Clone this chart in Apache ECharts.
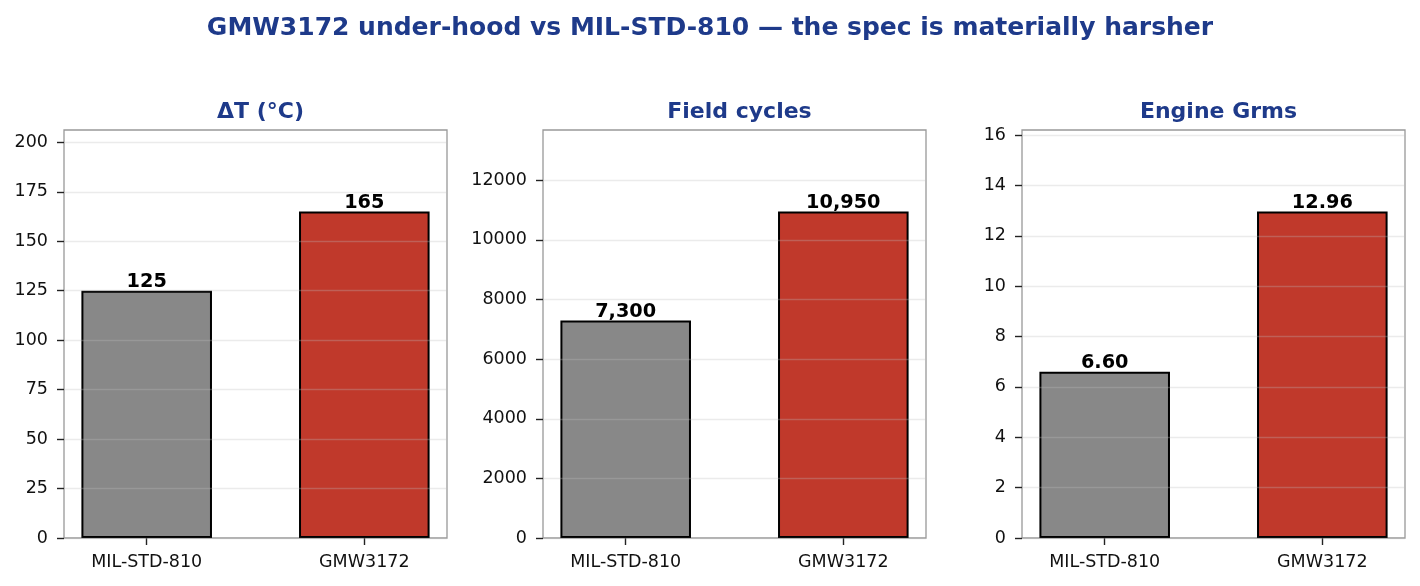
<!DOCTYPE html>
<html><head><meta charset="utf-8">
<script src="https://cdn.jsdelivr.net/npm/echarts@6/dist/echarts.min.js"></script>
<style>html,body{margin:0;padding:0;background:#fff}#c{width:1420px;height:586px}</style>
</head><body><div id="c"></div>
<script>
const chartTitle = 'GMW3172 under-hood vs MIL-STD-810 — the spec is materially harsher';
const categories = ['MIL-STD-810', 'GMW3172'];
const panelTitles = ['ΔT (°C)', 'Field cycles', 'Engine Grms'];
const deltaT = [125, 165];
const fieldCycles = [7300, 10950];
const engineGrms = [6.60, 12.96];
const deltaTLabels = ['125', '165'];
const fieldCyclesLabels = ['7,300', '10,950'];
const engineGrmsLabels = ['6.60', '12.96'];
const deltaTTicks = [0, 25, 50, 75, 100, 125, 150, 175, 200];
const fieldCyclesTicks = [0, 2000, 4000, 6000, 8000, 10000, 12000];
const engineGrmsTicks = [0, 2, 4, 6, 8, 10, 12, 14, 16];

const panels = [
  {vals: deltaT, labels: deltaTLabels, ticks: deltaTTicks},
  {vals: fieldCycles, labels: fieldCyclesLabels, ticks: fieldCyclesTicks},
  {vals: engineGrms, labels: engineGrmsLabels, ticks: engineGrmsTicks}
];
const barColors = ['#888888', '#c0392b'];
const FONT = 'DejaVu Sans';
const gridLeft = [64, 543, 1022], gridW = 383, gridTop = 130, gridH = 408;
const xMin = -0.38, xMax = 1.38;
const barW = 0.6 / (xMax - xMin) * gridW;

const option = {
  animation: false,
  backgroundColor: '#fff',
  title: [{
    text: chartTitle, left: 'center', top: 11,
    textStyle: {fontFamily: FONT, fontSize: 25, fontWeight: 'bold', color: '#1e3a8a'}
  }].concat(panelTitles.map((t, i) => ({
    text: t, left: gridLeft[i] + gridW / 2, top: 96, textAlign: 'center',
    textStyle: {fontFamily: FONT, fontSize: 22, fontWeight: 'bold', color: '#1e3a8a'}
  }))),
  grid: gridLeft.map(l => ({left: l, top: gridTop, width: gridW, height: gridH, show: true,
    borderColor: '#999', borderWidth: 1.3, backgroundColor: 'transparent', containLabel: false})),
  xAxis: panels.map((p, i) => ({
    type: 'value', gridIndex: i, min: xMin, max: xMax,
    axisLine: {show: false, onZero: false},
    axisTick: {show: true, customValues: [0, 1], length: 7, lineStyle: {color: '#222', width: 1.4}},
    axisLabel: {customValues: [0, 1], formatter: v => categories[Math.round(v)], margin: 15,
      fontFamily: FONT, fontSize: 17.5, color: '#111'},
    splitLine: {show: false}
  })),
  yAxis: panels.map((p, i) => ({
    type: 'value', gridIndex: i, min: 0, max: Math.max(...p.vals) * 1.25, z: 5,
    axisLine: {show: false, onZero: false},
    axisTick: {show: true, customValues: p.ticks, length: 7, lineStyle: {color: '#222', width: 1.4}},
    axisLabel: {customValues: p.ticks, margin: 16, formatter: v => String(v),
      fontFamily: FONT, fontSize: 17.5, color: '#111'},
    splitLine: {show: true, lineStyle: {color: 'rgba(190,190,190,0.3)', width: 1.3}}
  })),
  series: panels.map((p, i) => ({
    type: 'bar', xAxisIndex: i, yAxisIndex: i, barWidth: barW, z: 2,
    data: p.vals.map((v, j) => ({value: [j, v],
      itemStyle: {color: barColors[j], borderColor: '#000', borderWidth: 2}})),
    label: {show: true, position: 'top', distance: -1,
      formatter: prm => p.labels[prm.dataIndex],
      fontFamily: FONT, fontSize: 19.3, fontWeight: 'bold', color: '#000'}
  }))
};
const chart = echarts.init(document.getElementById('c'), null, {renderer: 'canvas'});
chart.setOption(option);
</script></body></html>
